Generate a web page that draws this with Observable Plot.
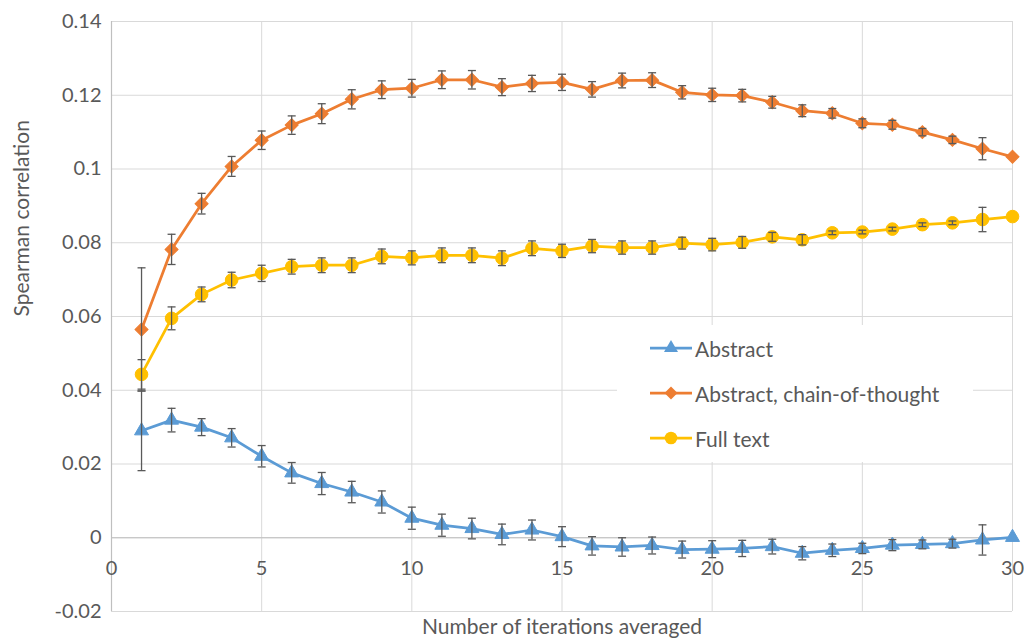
<!DOCTYPE html>
<html>
<head>
<meta charset="utf-8">
<script src="https://cdn.jsdelivr.net/npm/d3@7"></script>
<script src="https://cdn.jsdelivr.net/npm/@observablehq/plot@0.6"></script>
<style>
  html, body { margin: 0; padding: 0; background: #fff; }
  #wrap { position: relative; width: 1024px; height: 639px; font-family: Lato, "Open Sans", sans-serif; }
  #legend { position: absolute; left: 617px; top: 325px; width: 356px; height: 137px; background: #fff; }
  .row { position: absolute; left: 0; height: 30px; display: flex; align-items: center; }
  .row span { font-size: 21px; color: #595959; margin-left: 3px; }
</style>
</head>
<body>
<div id="wrap"></div>
<script>
// ---- data ----
const iterations = [1,2,3,4,5,6,7,8,9,10,11,12,13,14,15,16,17,18,19,20,21,22,23,24,25,26,27,28,29,30];

const seriesNames = ["Abstract", "Abstract, chain-of-thought", "Full text"];
const seriesColors = ["#5B9BD5", "#ED7D31", "#FFC000"];
const seriesSymbols = ["triangle", "diamond", "circle"];

const abstractMean = [0.0290,0.0319,0.0300,0.0271,0.0221,0.0176,0.0147,0.0124,0.0097,0.0053,0.0034,0.0025,0.0009,0.0021,0.0003,-0.0022,-0.0025,-0.0021,-0.0032,-0.0031,-0.0029,-0.0024,-0.0042,-0.0034,-0.0029,-0.0020,-0.0018,-0.0016,-0.0006,0.0001];
const abstractErr  = [0.0108,0.0032,0.0023,0.0025,0.0029,0.0028,0.0030,0.0029,0.0030,0.0030,0.0030,0.0028,0.0028,0.0027,0.0027,0.0025,0.0025,0.0023,0.0023,0.0023,0.0022,0.0020,0.0018,0.0017,0.0014,0.0015,0.0012,0.0012,0.0041,0];

const cotMean = [0.0565,0.0782,0.0906,0.1007,0.1078,0.1119,0.1150,0.1189,0.1215,0.1219,0.1242,0.1242,0.1222,0.1232,0.1235,0.1216,0.1240,0.1241,0.1208,0.1201,0.1199,0.1181,0.1158,0.1151,0.1124,0.1120,0.1100,0.1079,0.1055,0.1033];
const cotErr  = [0.0167,0.0041,0.0028,0.0027,0.0025,0.0025,0.0027,0.0026,0.0024,0.0024,0.0024,0.0025,0.0023,0.0022,0.0022,0.0021,0.0020,0.0020,0.0018,0.0018,0.0017,0.0016,0.0016,0.0013,0.0012,0.0012,0.0010,0.0010,0.0030,0];

const fullMean = [0.0443,0.0595,0.0660,0.0699,0.0717,0.0735,0.0739,0.0739,0.0763,0.0759,0.0766,0.0766,0.0758,0.0785,0.0778,0.0791,0.0787,0.0787,0.0799,0.0795,0.0801,0.0816,0.0808,0.0827,0.0829,0.0837,0.0849,0.0854,0.0863,0.0871];
const fullErr  = [0.0040,0.0031,0.0020,0.0021,0.0022,0.0020,0.0020,0.0020,0.0020,0.0019,0.0020,0.0020,0.0020,0.0020,0.0018,0.0018,0.0018,0.0018,0.0016,0.0017,0.0016,0.0012,0.0014,0.0005,0.0005,0.0005,0.0005,0.0005,0.0033,0];

const xTicks = [0,5,10,15,20,25,30];
const yTicks = [-0.02,0,0.02,0.04,0.06,0.08,0.1,0.12,0.14];
const yTickLabels = ["-0.02","0","0.02","0.04","0.06","0.08","0.1","0.12","0.14"];

const xTitle = "Number of iterations averaged";
const yTitle = "Spearman correlation";

// ---- build table ----
const means = [abstractMean, cotMean, fullMean];
const errs = [abstractErr, cotErr, fullErr];
const rows = [];
seriesNames.forEach((name, s) => {
  iterations.forEach((it, i) => {
    rows.push({series: name, x: it, y: means[s][i], e: errs[s][i]});
  });
});
const errRows = rows.filter(d => d.e > 0);

const textColor = "#595959";
const capSymbol = { draw(ctx, size) { const r = Math.sqrt(size / Math.PI); ctx.moveTo(-r, 0); ctx.lineTo(r, 0); } };
const symbolR = {triangle: 5.2, diamond: 5.2, circle: 6.3};

const marks = [
  Plot.gridY(yTicks, {stroke: "#d9d9d9", strokeOpacity: 1}),
  Plot.gridX(xTicks, {stroke: "#d9d9d9", strokeOpacity: 1}),
  Plot.ruleY([0], {stroke: "#bfbfbf", strokeWidth: 1.2}),
  Plot.ruleX([0], {stroke: "#bfbfbf", strokeWidth: 1.2}),
  Plot.axisY({ticks: yTicks, tickFormat: (d) => yTickLabels[yTicks.indexOf(d)], tickSize: 0, tickPadding: 10, fontSize: 20, color: textColor, label: null}),
  Plot.text(xTicks, {x: d => d, y: () => 0, dy: 31, text: d => String(d), fontSize: 20, fill: textColor}),
  Plot.text([xTitle], {frameAnchor: "bottom", dy: 22, fontSize: 21, fill: textColor}),
  Plot.text([yTitle], {frameAnchor: "left", dx: -89, rotate: -90, fontSize: 21, fill: textColor})
];

seriesNames.forEach((name, s) => {
  const data = rows.filter(d => d.series === name);
  marks.push(Plot.line(data, {x: "x", y: "y", stroke: seriesColors[s], strokeWidth: 2.75}));
  const dotOpts = {x: "x", y: "y", fill: seriesColors[s], stroke: seriesColors[s], strokeWidth: 1, r: symbolR[seriesSymbols[s]]};
  if (seriesSymbols[s] === "diamond") {
    marks.push(Plot.dot(data, {...dotOpts, symbol: "square", rotate: 45}));
  } else {
    marks.push(Plot.dot(data, {...dotOpts, symbol: seriesSymbols[s]}));
  }
  const ed = errRows.filter(d => d.series === name);
  marks.push(Plot.ruleX(ed, {x: "x", y1: d => d.y - d.e, y2: d => d.y + d.e, stroke: "#595959", strokeWidth: 1.3}));
  marks.push(Plot.dot(ed, {x: "x", y: d => d.y + d.e, symbol: capSymbol, r: 4, stroke: "#595959", strokeWidth: 1.3}));
  marks.push(Plot.dot(ed, {x: "x", y: d => d.y - d.e, symbol: capSymbol, r: 4, stroke: "#595959", strokeWidth: 1.3}));
});

const chart = Plot.plot({
  width: 1024,
  height: 639,
  marginLeft: 111,
  marginRight: 12,
  marginTop: 21,
  marginBottom: 28,
  style: {fontFamily: "Lato, 'Open Sans', sans-serif", background: "#fff"},
  x: {domain: [0, 30], axis: null},
  y: {domain: [-0.02, 0.14], axis: null},
  marks
});

const wrap = document.getElementById("wrap");
wrap.appendChild(chart);

// ---- legend ----
const legend = document.createElement("div");
legend.id = "legend";
const rowTops = [8, 53, 98];
seriesNames.forEach((name, s) => {
  const row = document.createElement("div");
  row.className = "row";
  row.style.top = rowTops[s] + "px";
  row.style.left = "33px";
  const sw = d3.create("svg").attr("width", 42).attr("height", 30);
  sw.append("line").attr("x1", 0).attr("x2", 42).attr("y1", 15).attr("y2", 15).attr("stroke", seriesColors[s]).attr("stroke-width", 2.75);
  const sym = seriesSymbols[s] === "diamond" ? d3.symbolSquare : seriesSymbols[s] === "triangle" ? d3.symbolTriangle : d3.symbolCircle;
  const r = symbolR[seriesSymbols[s]];
  sw.append("path").attr("d", d3.symbol(sym, Math.PI * r * r)()).attr("fill", seriesColors[s])
    .attr("transform", `translate(21,15)${seriesSymbols[s] === "diamond" ? " rotate(45)" : ""}`);
  row.appendChild(sw.node());
  const t = document.createElement("span");
  t.textContent = name;
  row.appendChild(t);
  legend.appendChild(row);
});
wrap.appendChild(legend);
</script>
</body>
</html>
